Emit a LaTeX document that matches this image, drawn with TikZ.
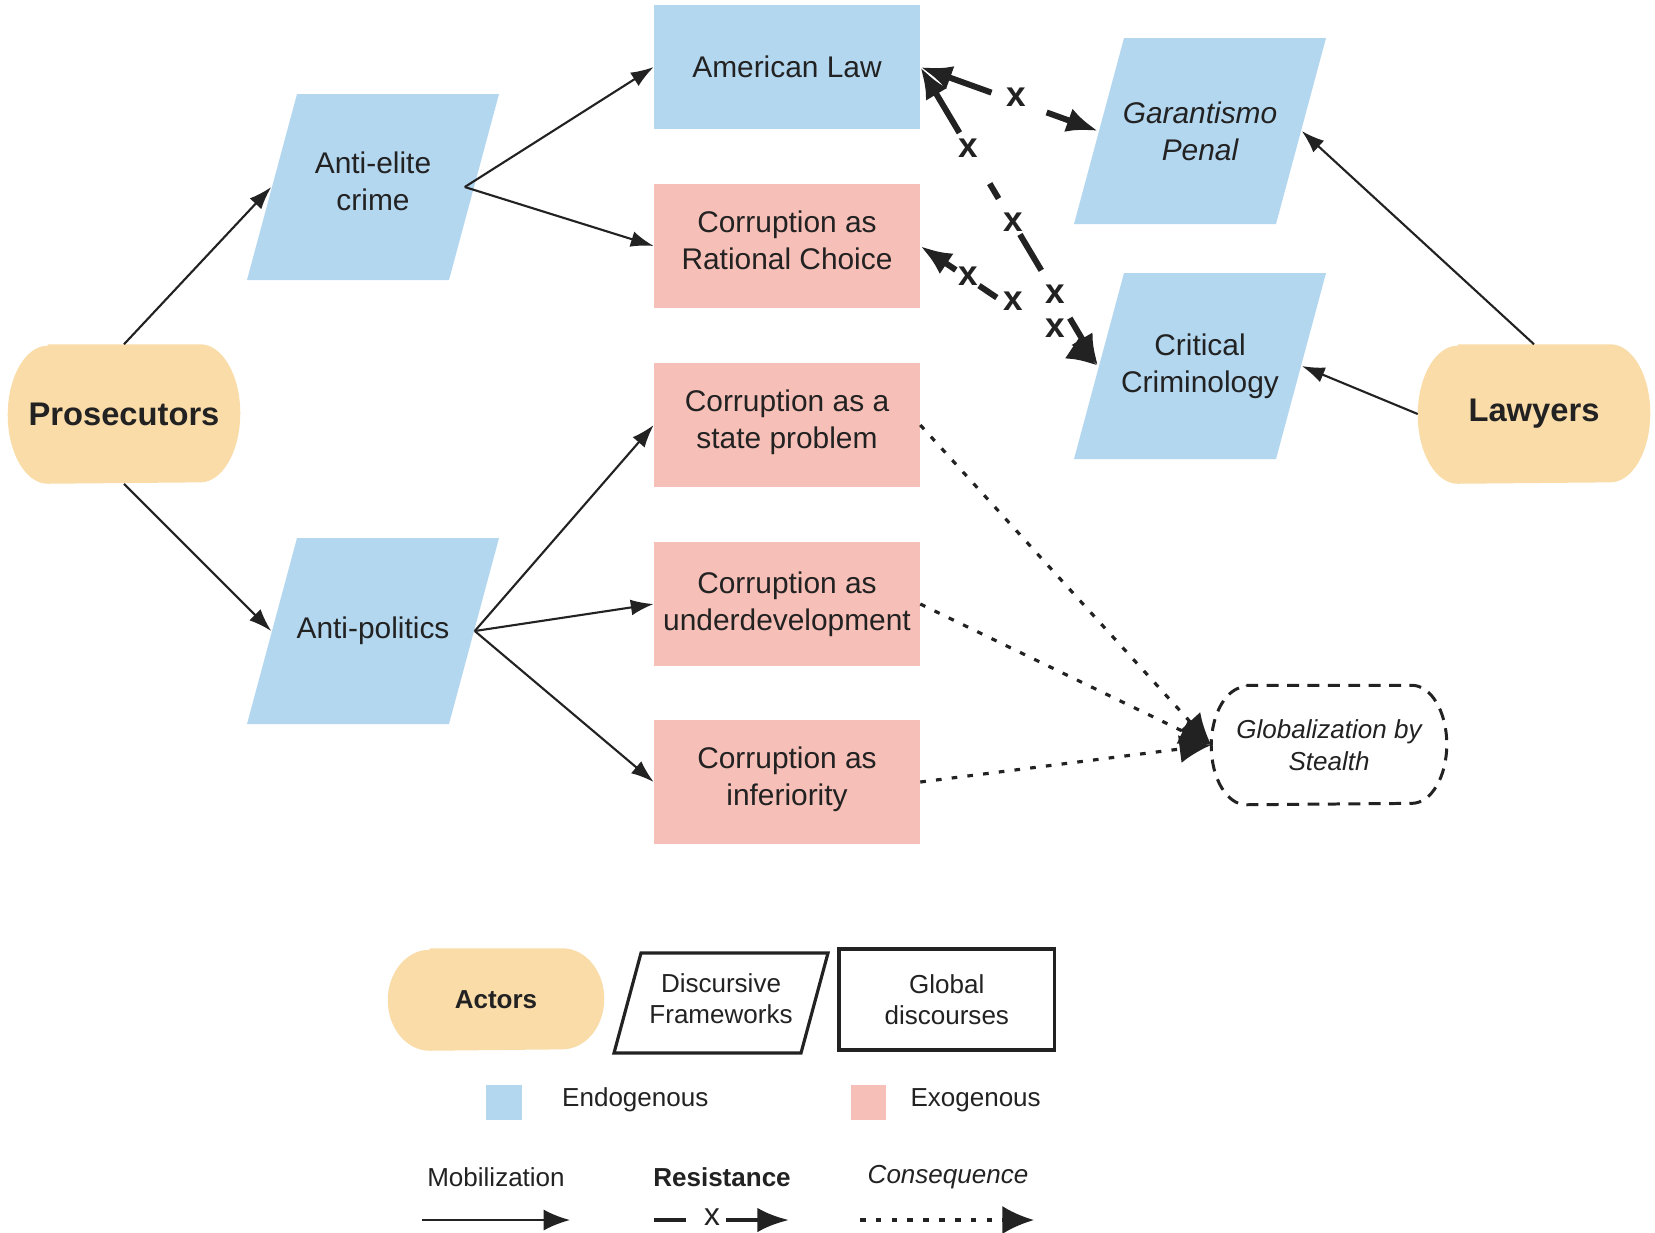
\documentclass[tikz,border=0pt]{standalone}
\usepackage{fontspec}
\setmainfont{Liberation Sans}
\usetikzlibrary{shapes.geometric,arrows.meta,backgrounds,calc}
\definecolor{blu}{HTML}{B4D7F0}
\definecolor{pnk}{HTML}{F6BFB7}
\definecolor{org}{HTML}{FADCA8}
\definecolor{ink}{HTML}{222222}
\tikzset{
 base/.style={text=ink, align=center, inner sep=0pt},
 mtxt/.style={font=\fontsize{8.5}{10.6}\selectfont},
 lift/.style={text depth=3.4pt},
 para/.style={base,mtxt,rectangle,minimum width=2.02cm,minimum height=1.86cm},
 rbox/.style={base,mtxt,rectangle,minimum width=2.65cm,minimum height=1.23cm},
 actor/.style={base,rectangle,font=\fontsize{9.3}{11}\selectfont\bfseries,minimum width=2.31cm,minimum height=1.38cm},
 mob/.style={draw=ink,line width=0.6pt,-{Latex[length=6.5pt,width=4.5pt]}},
 res/.style={draw=ink,line width=1.7pt},
 reshead/.style={-{Latex[length=9pt,width=7pt]}},
 xmark/.style={font=\fontsize{10}{12}\selectfont\bfseries,text=ink,inner sep=0pt},
 cons/.style={draw=ink,line width=0.9pt,dash pattern=on 1.6pt off 2.9pt,-{Latex[length=9pt,width=8pt]}},
 leg/.style={text=ink,font=\fontsize{7.4}{9.0}\selectfont,align=center,inner sep=0pt},
}
\begin{document}
\begin{tikzpicture}[x=0.01cm,y=-0.01cm]
\path[use as bounding box] (0,0) rectangle (1655,1232);

% central boxes
\node[rbox,fill=blu] (AL) at (787,67) {American Law};
\node[rbox,lift,fill=pnk] (RC) at (787,246) {Corruption as\\Rational Choice};
\node[rbox,lift,fill=pnk] (SP) at (787,425) {Corruption as a\\state problem};
\node[rbox,fill=pnk] (UD) at (787,604) {Corruption as\\underdevelopment};
\node[rbox,lift,fill=pnk] (IN) at (787,782) {Corruption as\\inferiority};

% frameworks (parallelograms drawn on the background layer)
\node[para,lift] (AE) at (373,187) {Anti-elite\\crime};
\node[para] (AP) at (373,631) {Anti-politics};
\node[para,font=\fontsize{8.5}{10.6}\selectfont\itshape] (GP) at (1200,131) {Garantismo\\Penal};
\node[para] (CC) at (1200,366) {Critical\\Criminology};

% actors
\node[actor] (P) at (124,414) {Prosecutors};
\node[actor] (L) at (1534,414) {Lawyers};

% globalization
\node[base,rectangle,font=\fontsize{7.4}{9.2}\selectfont\itshape,minimum width=2.34cm,minimum height=1.18cm] (G) at (1329,745) {Globalization by\\Stealth};

% legend shapes
\node[base,rectangle,font=\fontsize{7.4}{9}\selectfont\bfseries,minimum width=2.15cm,minimum height=1.01cm] (A) at (496,999.5) {Actors};
\node[leg,rectangle,text depth=2.6pt,minimum width=1.87cm,minimum height=1.0cm] (DF) at (721,1003) {Discursive\\Frameworks};
\node[leg,rectangle,draw=ink,line width=0.9pt,minimum width=2.155cm,minimum height=1.01cm] (GD) at (946.8,999.5) {Global\\discourses};

\begin{scope}[on background layer]
\fill[white] (0,0) rectangle (1655,1232);
\foreach \n in {AE,AP,GP,CC}{
  \fill[blu] ($(\n.center)+(-76,-93)$) -- ($(\n.center)+(126,-93)$) -- ($(\n.center)+(76,93)$) -- ($(\n.center)+(-126,93)$) -- cycle;
}
\draw[ink,line width=0.9pt,fill=white] ($(DF.center)+(-80,-50)$) -- ($(DF.center)+(107,-50)$) -- ($(DF.center)+(80,50)$) -- ($(DF.center)+(-107,50)$) -- cycle;
\fill[org] ([xshift=0.4cm]P.north west) -- ([xshift=-0.4cm]P.north east) arc[start angle=90,end angle=-90,x radius=0.4cm,y radius=0.69cm] -- ([xshift=0.4cm]P.south west) arc[start angle=270,end angle=90,x radius=0.4cm,y radius=0.69cm] -- cycle;
\fill[org] ([xshift=0.4cm]L.north west) -- ([xshift=-0.4cm]L.north east) arc[start angle=90,end angle=-90,x radius=0.4cm,y radius=0.69cm] -- ([xshift=0.4cm]L.south west) arc[start angle=270,end angle=90,x radius=0.4cm,y radius=0.69cm] -- cycle;
\fill[org] ([xshift=0.42cm]A.north west) -- ([xshift=-0.42cm]A.north east) arc[start angle=90,end angle=-90,x radius=0.42cm,y radius=0.505cm] -- ([xshift=0.42cm]A.south west) arc[start angle=270,end angle=90,x radius=0.42cm,y radius=0.505cm] -- cycle;
\draw[ink,line width=0.85pt,dash pattern=on 3.4pt off 2.4pt] ([xshift=0.35cm]G.north west) -- ([xshift=-0.35cm]G.north east) arc[start angle=90,end angle=-90,x radius=0.35cm,y radius=0.59cm] -- ([xshift=0.35cm]G.south west) arc[start angle=270,end angle=90,x radius=0.35cm,y radius=0.59cm] -- cycle;
\end{scope}

% mobilization
\draw[mob] (P.north) -- (AE.west);
\draw[mob] (P.south) -- (AP.west);
\draw[mob] ([xshift=-0.1cm]AE.east) -- (AL.west);
\draw[mob] ([xshift=-0.1cm]AE.east) -- (RC.west);
\draw[mob] (AP.east) -- (SP.west);
\draw[mob] (AP.east) -- (UD.west);
\draw[mob] (AP.east) -- (IN.west);
\draw[mob] (L.north) -- (GP.east);
\draw[mob] (L.west) -- (CC.east);

% resistance: Garantismo <-> American Law
\path (AL.east) -- (GP.west) coordinate[pos=0.40] (ga1) coordinate[pos=0.71] (ga2)
  node[xmark,pos=0.54,yshift=0.04cm] (gax) {x};
\draw[res,reshead] (ga1) -- (AL.east);
\draw[res,reshead] (ga2) -- (GP.west);

% resistance: Critical Criminology -> American Law
\path (AL.east) -- (CC.west) coordinate[pos=0.22] (a1) coordinate[pos=0.39] (a2)
  coordinate[pos=0.44] (a3) coordinate[pos=0.56] (a4) coordinate[pos=0.68] (a5)
  coordinate[pos=0.84] (a6)
  node[xmark,pos=0.27] (ax1) {x} node[xmark,pos=0.52] (ax2) {x} node[xmark,pos=0.76] (ax3) {x};
\draw[res,reshead] (a1) -- (AL.east);
\draw[res] (a2) -- (a3);
\draw[res] (a4) -- (a5);
\draw[res,reshead] (a6) -- (CC.west);

% resistance: Critical Criminology -> Rational Choice
\path (RC.east) -- (CC.west) coordinate[pos=0.2] (b1) coordinate[pos=0.33] (b2)
  coordinate[pos=0.43] (b3) coordinate[pos=0.86] (b4)
  node[xmark,pos=0.27,yshift=0.02cm] (bx1) {x} node[xmark,pos=0.52,yshift=0.07cm] (bx2) {x} node[xmark,pos=0.76,yshift=0.09cm] (bx3) {x};
\draw[res,reshead] (b1) -- (RC.east);
\draw[res] (b2) -- (b3);
\draw[res,reshead] (b4) -- (CC.west);

% consequences
\draw[cons] (SP.east) -- (G.west);
\draw[cons] (UD.east) -- (G.west);
\draw[cons] (IN.east) -- (G.west);

% legend colours
\node[fill=blu,minimum size=0.35cm,inner sep=0pt] (EB) at (504,1102.5) {};
\node[leg,anchor=west] (ET) at (561.5,1100) {Endogenous};
\node[fill=pnk,minimum size=0.35cm,inner sep=0pt] (XB) at (868,1102.5) {};
\node[leg,anchor=west] (XT) at (909.8,1100) {Exogenous};

% legend arrows
\node[leg] (MT) at (496,1177) {Mobilization};
\node[leg,font=\fontsize{7.4}{9}\selectfont\bfseries] (RT) at (722,1177) {Resistance};
\node[leg,font=\fontsize{7.4}{9}\selectfont\itshape] (CT) at (948,1177) {Consequence};
\coordinate (m1) at (422,1220); \coordinate (m2) at (570,1220);
\draw[mob,-{Latex[length=7.5pt,width=6pt]}] (m1) -- (m2);
\coordinate (r1) at (654,1220); \coordinate (r2) at (686,1220);
\coordinate (r3) at (726,1220); \coordinate (r4) at (789,1220);
\node[xmark,font=\fontsize{9}{11}\selectfont] (rx) at (712,1217) {x};
\draw[res,line width=1.3pt] (r1) -- (r2);
\draw[res,line width=1.3pt,reshead] (r3) -- (r4);
\coordinate (c1) at (860,1220); \coordinate (c2) at (1034,1220);
\draw[cons] (c1) -- (c2);
\end{tikzpicture}
\end{document}
